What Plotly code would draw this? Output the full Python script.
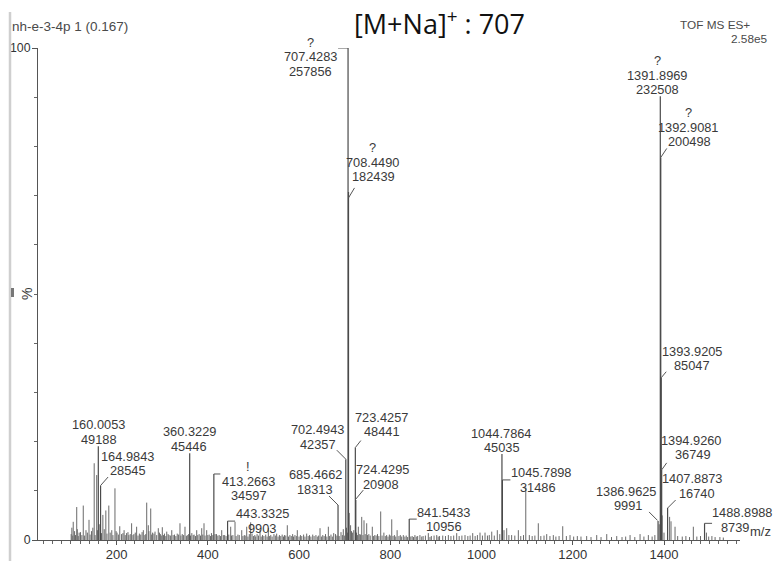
import plotly.graph_objects as go

# ---------------- data ----------------
# Labelled centroid peaks: m/z, absolute intensity, annotation flag
labeled_mz = [160.0053, 164.9843, 360.3229, 413.2663, 443.3325, 685.4662, 702.4943,
              707.4283, 708.4490, 723.4257, 724.4295, 841.5433, 1044.7864, 1045.7898,
              1386.9625, 1391.8969, 1392.9081, 1393.9205, 1394.9260, 1407.8873, 1488.8988]
labeled_abund = [49188, 28545, 45446, 34597, 9903, 18313, 42357,
                 257856, 182439, 48441, 20908, 10956, 45035, 31486,
                 9991, 232508, 200498, 85047, 36749, 16740, 8739]
labeled_flag = ["", "", "", "!", "", "", "",
                "?", "?", "", "", "", "", "",
                "", "?", "?", "", "", "", ""]
base_peak = 257856

# Unlabelled peaks (m/z, relative intensity %)
minor_peaks_100_400 = [
    (100.5, 1.2), (102, 2.5), (104, 0.9), (105, 3.7), (108, 1.8), (110, 1.0), (112.7, 6.7),
    (114, 2.2), (116, 0.8), (118, 1.5), (121, 1.6), (124, 1.0), (127, 7.0), (130, 0.9),
    (133, 2.0), (136, 1.5), (139.6, 4.1), (142, 1.1), (145, 1.8), (148, 2.5), (151, 15.6),
    (153, 1.0), (156.5, 13.2), (158, 2.0), (162, 3.2), (167, 1.4), (170, 5.1), (173, 2.2),
    (176.5, 6.0), (179, 1.3), (183, 7.0), (186, 1.5), (189.5, 2.0), (192, 1.0), (196.5, 10.5),
    (199, 1.8), (201, 1.5), (204, 1.1), (207, 2.8), (211, 1.2), (214, 1.4), (216.5, 2.0),
    (219, 1.0), (222, 1.4), (225, 1.6), (227, 1.0), (230, 1.2), (233, 3.4), (236, 1.0),
    (238, 1.2), (241, 1.5), (244, 2.7), (247, 0.9), (250, 1.3), (253, 1.1), (256, 1.6),
    (258.7, 2.0), (262, 1.0), (264, 1.2), (266.1, 7.6), (269.6, 3.0), (271, 1.8),
    (274.9, 6.4), (277, 1.1), (279, 1.5), (282, 1.3), (284.3, 1.7), (288, 1.0), (291.5, 2.4),
    (294, 1.5), (296, 1.2), (298, 0.9), (300.3, 2.6), (303, 1.0), (305, 1.3), (308, 0.8),
    (310, 1.7), (313, 1.2), (315, 1.0), (318, 0.9), (321, 2.0), (324, 1.0), (327, 1.1),
    (330, 0.8), (333, 1.3), (336, 1.1), (339, 3.4), (341, 0.9), (344, 1.2), (347, 1.0),
    (350, 2.7), (353, 0.8), (355, 1.0), (358, 1.2), (362, 0.9), (365, 1.4), (368, 1.0),
    (370, 1.1), (373, 0.8), (375.7, 2.0), (378, 1.0), (381, 1.2), (384, 0.9), (386.7, 2.4),
    (389, 1.1), (391.7, 3.4), (394, 0.9), (397.6, 2.0), (400, 1.0),
]
minor_peaks_400_800 = [
    (403, 1.1), (406, 0.8), (408, 1.4), (411, 1.0), (416, 1.2), (419, 1.2), (422, 0.9),
    (425, 1.0), (428, 0.8), (430.5, 2.0), (434, 1.0), (437, 1.0), (440, 0.8), (446, 1.1),
    (450.2, 2.7), (452, 0.9), (455, 1.0), (459.7, 3.7), (462, 0.8), (466, 1.1), (469, 1.0),
    (474.4, 2.0), (477, 0.8), (480, 1.0), (482, 0.9), (485.3, 2.7), (488, 0.7), (491, 1.2),
    (494, 3.6), (497, 1.3), (500, 0.8), (503, 1.0), (505, 0.7), (508, 1.2), (511, 0.9),
    (514.5, 2.0), (517, 0.7), (520, 1.0), (523, 0.8), (527, 1.1), (530, 0.7), (532.7, 2.4),
    (535, 0.8), (538, 1.0), (541, 0.7), (545, 1.2), (548, 0.9), (551, 1.3), (554, 0.7),
    (557, 1.0), (560, 0.8), (563, 1.1), (566, 0.7), (568, 1.0), (571, 0.9), (574.3, 3.0),
    (577, 0.7), (580, 1.0), (583, 0.8), (586, 1.2), (588, 0.7), (591, 1.0), (594, 0.8),
    (596.2, 2.0), (600, 0.7), (603, 1.0), (606, 0.8), (610, 1.1), (613, 0.7), (616.8, 1.3),
    (620, 0.8), (623, 1.0), (626, 0.7), (630, 1.1), (633, 0.8), (637, 1.0), (640, 0.7),
    (643, 0.9), (646, 2.4), (649, 0.7), (652, 1.0), (655, 0.8), (658, 1.2), (661, 0.7),
    (664.2, 2.7), (667, 0.8), (670, 1.1), (673, 0.7), (676, 1.4), (680, 1.2), (683, 0.9),
    (688, 0.8), (692, 1.6), (695, 1.0), (697, 2.2), (700, 0.9), (704, 2.5), (706, 1.5),
    (710, 5.5), (713, 3.0), (715, 1.8), (717, 1.5), (720, 2.0), (726, 1.5), (728, 1.0),
    (730, 2.7), (733, 1.2), (735, 1.1), (737.4, 4.7), (740, 1.0), (742.4, 4.0), (745, 1.2),
    (748.3, 3.4), (750, 1.0), (753, 1.2), (756, 0.9), (760.6, 2.7), (763, 0.8), (766, 1.0),
    (769, 0.9), (772, 1.2), (775, 0.8), (779, 5.8), (782, 0.9), (786, 1.5), (789, 0.8),
    (792, 1.0), (795, 0.7), (798, 1.1), (800, 0.9),
]
minor_peaks_800_1600 = [
    (803.2, 4.2), (806, 0.8), (809, 1.0), (812, 0.7), (815, 2.0), (819, 0.8), (822, 1.0),
    (825, 0.7), (828.6, 1.0), (832, 0.7), (835, 0.9), (838, 0.6), (845, 0.7), (848, 0.8),
    (851, 0.6), (854, 1.0), (857, 0.7), (860, 0.8), (865, 1.0), (869, 0.7), (872, 0.8),
    (877, 0.9), (883.4, 1.4), (887, 0.6), (890, 0.8), (896, 0.9), (901.8, 1.0), (905, 0.7),
    (908, 0.8), (915, 0.9), (921, 0.8), (927.3, 1.0), (933, 0.8), (939, 0.9), (945.6, 1.4),
    (951, 0.8), (957, 0.9), (963.8, 1.0), (970, 0.8), (975, 0.9), (980.7, 1.4), (986, 0.8),
    (991, 1.0), (996.7, 1.5), (1002, 0.9), (1007.7, 1.5), (1013, 0.9), (1017, 1.0),
    (1022.4, 1.7), (1028, 0.9), (1034.6, 2.0), (1040, 1.2), (1049.3, 2.0), (1055.2, 2.4),
    (1060, 1.0), (1066, 1.0), (1073, 0.9), (1080.7, 2.0), (1086, 0.8), (1092, 1.0),
    (1097, 10.7), (1104.8, 1.0), (1111, 0.8), (1117, 0.9), (1124.5, 3.4), (1130, 0.8),
    (1137, 0.9), (1142.9, 1.2), (1150, 0.8), (1157.4, 1.0), (1163, 0.7), (1170, 0.8),
    (1178, 2.8), (1186, 0.8), (1194, 1.0), (1202, 0.7), (1210, 0.8), (1218, 0.7),
    (1230.5, 0.8), (1240, 0.6), (1252.5, 1.0), (1262, 0.6), (1274.5, 1.2), (1285, 0.6),
    (1296.4, 0.8), (1308, 0.6), (1316, 0.7), (1325.6, 1.0), (1336, 0.6), (1347.5, 1.2),
    (1356, 0.7), (1365.7, 1.0), (1374, 0.7), (1380, 1.0), (1389.5, 3.2), (1396, 5.0),
    (1400, 1.5), (1412.3, 4.7), (1415.4, 3.8), (1424.2, 2.7), (1430, 0.8), (1440, 0.7),
    (1448, 0.8), (1456, 0.6), (1464.3, 2.7), (1472, 0.7), (1480, 0.8), (1493, 1.5),
    (1498, 0.7), (1505, 0.8), (1512, 0.6), (1522.5, 0.6), (1530, 0.5),
]

x_tick_vals = [200, 400, 600, 800, 1000, 1200, 1400]
y_tick_vals = [0, 100]

# ---------------- label placement (pixel offsets from each peak top) ----------------
# (dx of m/z line, dx of intensity line, dy of intensity line, leader segment or None)
label_offsets = [
    (0.4, 0.4, -7, None),
    (27.4, 27.4, -15, (0, 0, 7.5, -8.5)),
    (-0.4, -0.4, -7, None),
    (34.5, 35.5, 22, (0, 0, 6.5, 0)),
    (35, 34.2, 7.2, (0, 0, 7.5, 0)),
    (-23, -23, -15.8, (-9, -9, 0, 0)),
    (-28.3, -28.3, -15, (-9, -9, 0, 0)),
    (-38, -38, 23, (-10, 0, 0, 0)),
    (23.5, 24.5, -15, (0, 6, 6, -4)),
    (26.5, 26.5, -15.6, (0, 0, 5.5, -7)),
    (26.2, 25, -16, (0, -1, 7.5, -10)),
    (34.6, 34.6, 7.6, (0, 0, 7.5, 0)),
    (-0.2, -0.2, -6.3, None),
    (38.8, 35.3, 7.4, (0, 0, 8, 0)),
    (-31.3, -29.7, -15, (-9, -9, -0.5, -0.5)),
    (-2.6, -2.6, -6.4, None),
    (27.5, 28.5, -15.7, (0, 0, 6, -9)),
    (31, 31, -12, (0, 0, 5, -6)),
    (30, 31, -14.9, (0, 0, 5, -7)),
    (25.1, 29.1, -14.8, (0, 0, 8, -8)),
    (37.5, 30.5, 3.7, (0, 0, 7.5, 0)),
]
LINE_GAP = 14.5

FONT = "Liberation Sans, Arial, Helvetica, sans-serif"
TEXT_COLOR = "#3a3a3a"
PEAK_COLOR = "#4a4a4a"

W, H = 773, 561
M_L, M_R, M_T, M_B = 38, 33, 48, 21
X_RANGE = [27.8, 1566.6]
Y_RANGE = [0, 100]
PLOT_W = W - M_L - M_R
PLOT_H = H - M_T - M_B


def paper(px, py):
    """Convert page pixel position to paper coordinates."""
    return (px - M_L) / PLOT_W, (H - M_B - py) / PLOT_H


# ---------------- stick spectrum ----------------
labeled_pct = [a / base_peak * 100 for a in labeled_abund]
minor_all = minor_peaks_100_400 + minor_peaks_400_800 + minor_peaks_800_1600

sx, sy = [], []
for mz, pct in minor_all:
    sx += [mz, mz, None]
    sy += [0, pct, None]
lx, ly = [], []
for mz, pct in zip(labeled_mz, labeled_pct):
    lx += [mz, mz, None]
    ly += [0, pct, None]

fig = go.Figure()
fig.add_trace(go.Scatter(x=sx, y=sy, mode="lines", line=dict(color="#6a6a6a", width=1),
                         hoverinfo="skip", showlegend=False))
fig.add_trace(go.Scatter(x=lx, y=ly, mode="lines", line=dict(color=PEAK_COLOR, width=1.2),
                         hoverinfo="skip", showlegend=False))

# ---------------- peak labels ----------------
annotations = []
shapes = []
for mz, pct, abund, flag, off in zip(labeled_mz, labeled_pct, labeled_abund, labeled_flag, label_offsets):
    dx_top, dx_bot, dy_last, leader = off
    lines = [(f"{abund}", dx_bot, dy_last), (f"{mz:.4f}", dx_top, dy_last - LINE_GAP)]
    if flag:
        lines.append((flag, dx_top, dy_last - 2 * LINE_GAP))
    for text, dx, dy in lines:
        annotations.append(dict(
            x=mz, y=pct, xref="x", yref="y", text=text, showarrow=False,
            xanchor="center", yanchor="middle", xshift=dx, yshift=-dy,
            font=dict(family=FONT, size=12.8, color=TEXT_COLOR)))
    if leader:
        x0, y0, x1, y1 = leader
        shapes.append(dict(
            type="line", xref="x", yref="y", xsizemode="pixel", ysizemode="pixel",
            xanchor=mz, yanchor=pct, x0=x0, x1=x1, y0=-y0, y1=-y1,
            line=dict(color="#555555", width=1)))

# ---------------- header / axis texts ----------------
def page_text(text, px, py, size, xanchor="center", color=TEXT_COLOR, family=FONT, angle=0):
    ax, ay = paper(px, py)
    annotations.append(dict(x=ax, y=ay, xref="paper", yref="paper", text=text,
                            showarrow=False, xanchor=xanchor, yanchor="middle",
                            textangle=angle, font=dict(family=family, size=size, color=color)))

page_text("nh-e-3-4p 1 (0.167)", 10, 27, 13.5, xanchor="left", color="#4a4a4a")
page_text("TOF MS ES+", 752, 25, 11.8, xanchor="right", color="#4a4a4a")
page_text("2.58e5", 770, 39, 11.8, xanchor="right", color="#4a4a4a")
page_text("[M+Na]<sup>+</sup> : 707", 439, 22, 27, color="#111111",
          family="Open Sans, Noto Sans, sans-serif")
page_text("m/z", 761, 531, 13, color="#3a3a3a")
page_text("%", 27, 294, 14, color="#3a3a3a", angle=-90)

# scanned paper edge on the left
ex, _ = paper(10, 0)
_, ey0 = paper(0, 561)
_, ey1 = paper(0, 12)
shapes.append(dict(type="line", xref="paper", yref="paper", x0=ex, x1=ex, y0=ey0, y1=ey1,
                   line=dict(color="#cfcfcf", width=2.5)))
mx0, my0 = paper(11, 297)
mx1, my1 = paper(14, 288)
shapes.append(dict(type="rect", xref="paper", yref="paper", x0=mx0, x1=mx1, y0=my0, y1=my1,
                   fillcolor="#777777", line=dict(width=0)))

fig.update_layout(
    width=W, height=H,
    margin=dict(l=M_L, r=M_R, t=M_T, b=M_B, autoexpand=False),
    paper_bgcolor="white", plot_bgcolor="white",
    showlegend=False,
    annotations=annotations,
    shapes=shapes,
    xaxis=dict(
        range=X_RANGE, showgrid=False, zeroline=False, automargin=False,
        showline=True, linecolor="#555555", linewidth=1,
        ticks="outside", ticklen=4, tickcolor="#555555",
        tickvals=x_tick_vals, ticklabelstandoff=-2,
        tickfont=dict(family=FONT, size=13, color="#333333"),
        minor=dict(dtick=20, tick0=0, ticks="outside", ticklen=3, tickcolor="#666666"),
    ),
    yaxis=dict(
        range=Y_RANGE, showgrid=False, zeroline=False, automargin=False,
        showline=True, linecolor="#555555", linewidth=1,
        ticks="outside", ticklen=5, tickcolor="#555555",
        tickvals=y_tick_vals, ticklabelstandoff=-1,
        tickfont=dict(family=FONT, size=12.3, color="#333333"),
        minor=dict(dtick=10, tick0=0, ticks="outside", ticklen=3, tickcolor="#666666"),
    ),
)

fig.write_html("out.html")
